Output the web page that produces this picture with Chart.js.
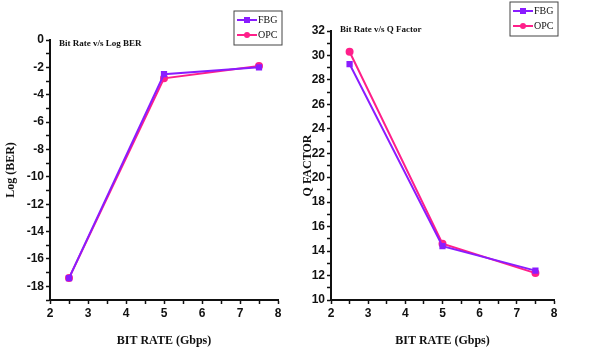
<!DOCTYPE html>
<html>
<head>
<meta charset="utf-8">
<script src="https://cdn.jsdelivr.net/npm/chart.js@4.4.0/dist/chart.umd.min.js"></script>
<style>
  html, body { margin: 0; padding: 0; background: #fff; }
  .box { position: absolute; top: 0; height: 352px; }
</style>
</head>
<body>
<div class="box" style="left:0;width:297px"><canvas id="berchart"></canvas></div>
<div class="box" style="left:297px;width:300px"><canvas id="qchart"></canvas></div>
<script>
// bit rate (Gbps)
const bitRates = [2.5, 5, 7.5];
// Log(BER)
const berFBG = [-17.4, -2.5, -2.0];
const berOPC = [-17.4, -2.8, -1.9];
// Q factor
const qFBG = [29.3, 14.4, 12.4];
const qOPC = [30.3, 14.6, 12.2];

const FBG_COLOR = '#8a1cff';
const OPC_COLOR = '#ff1f8a';
const serif = '"Liberation Serif", "DejaVu Serif", serif';
const sans = '"Liberation Sans Narrow", "Liberation Sans", sans-serif';

function pts(xs, ys) {
  return xs.map((x, i) => ({ x: x, y: ys[i] }));
}

// small title inside the plot + framed legend
const decor = {
  id: 'decor',
  afterDraw(chart, args, opts) {
    const ctx = chart.ctx;
    ctx.save();
    ctx.fillStyle = '#111';
    ctx.font = 'bold 9px ' + serif;
    ctx.textBaseline = 'middle';
    ctx.fillText(opts.title, opts.titleX, opts.titleY);
    // legend box
    const lx = opts.legX, ly = opts.legY;
    ctx.strokeStyle = '#444';
    ctx.lineWidth = 1;
    ctx.strokeRect(lx, ly, 48, 34);
    const items = [['FBG', FBG_COLOR, 'rect'], ['OPC', OPC_COLOR, 'circle']];
    items.forEach((it, i) => {
      const y = ly + 9 + i * 15;
      ctx.strokeStyle = it[1];
      ctx.fillStyle = it[1];
      ctx.lineWidth = 2;
      ctx.beginPath();
      ctx.moveTo(lx + 3, y);
      ctx.lineTo(lx + 23, y);
      ctx.stroke();
      if (it[2] === 'rect') {
        ctx.fillRect(lx + 10, y - 3, 6, 6);
      } else {
        ctx.beginPath();
        ctx.arc(lx + 13, y, 3, 0, Math.PI * 2);
        ctx.fill();
      }
      ctx.fillStyle = '#111';
      ctx.font = '10px ' + serif;
      ctx.fillText(it[0], lx + 24, y);
    });
    ctx.restore();
  }
};

function makeChart(id, fbg, opc, yMin, yMax, yTitle, pad, yWidth, decorOpts) {
  return new Chart(document.getElementById(id).getContext('2d'), {
    type: 'line',
    data: {
      datasets: [{
        label: 'FBG',
        data: pts(bitRates, fbg),
        borderColor: FBG_COLOR,
        backgroundColor: FBG_COLOR,
        borderWidth: 2,
        pointStyle: 'rect',
        pointRadius: 3,
        tension: 0
      }, {
        label: 'OPC',
        data: pts(bitRates, opc),
        borderColor: OPC_COLOR,
        backgroundColor: OPC_COLOR,
        borderWidth: 2,
        pointStyle: 'circle',
        pointRadius: 3,
        tension: 0
      }]
    },
    options: {
      responsive: false,
      animation: false,
      layout: { padding: pad },
      plugins: {
        legend: { display: false },
        tooltip: { enabled: false },
        decor: decorOpts
      },
      scales: {
        x: {
          type: 'linear',
          min: 2,
          max: 8,
          afterFit: s => { s.height = 52; },
          ticks: {
            stepSize: 0.5,
            autoSkip: false,
            maxRotation: 0,
            color: '#111',
            font: { family: sans, size: 12, weight: 'bold' },
            padding: 2,
            callback: v => (Number.isInteger(v) ? v : '')
          },
          grid: { drawOnChartArea: false, tickLength: 4, tickColor: '#111', tickWidth: 1.5 },
          border: { color: '#111', width: 2 },
          title: {
            display: true,
            text: 'BIT RATE (Gbps)',
            color: '#111',
            font: { family: serif, size: 12, weight: 'bold' },
            padding: { top: 7 }
          }
        },
        y: {
          min: yMin,
          max: yMax,
          afterFit: s => { s.width = yWidth; },
          ticks: {
            stepSize: 1,
            autoSkip: false,
            color: '#111',
            font: { family: sans, size: 12, weight: 'bold' },
            padding: 2,
            callback: v => (v % 2 === 0 ? v : '')
          },
          grid: { drawOnChartArea: false, tickLength: 4, tickColor: '#111', tickWidth: 1.5 },
          border: { color: '#111', width: 2 },
          title: {
            display: true,
            text: yTitle,
            color: '#111',
            font: { family: serif, size: 12, weight: 'bold' },
            padding: { bottom: 0 }
          }
        }
      }
    },
    plugins: [decor]
  });
}

function sizeCanvas(id, w) {
  const c = document.getElementById(id);
  c.width = w; c.height = 352;
  c.style.width = w + 'px'; c.style.height = '352px';
}
sizeCanvas('berchart', 297);
sizeCanvas('qchart', 300);

makeChart('berchart', berFBG, berOPC, -19, 0, 'Log (BER)',
  { top: 40, right: 19, left: 0, bottom: 0 }, 50,
  { title: 'Bit Rate v/s Log BER', titleX: 59, titleY: 44, legX: 234, legY: 11 });

makeChart('qchart', qFBG, qOPC, 10, 32, 'Q FACTOR',
  { top: 31, right: 43, left: 0, bottom: 0 }, 34,
  { title: 'Bit Rate v/s Q Factor', titleX: 43, titleY: 30, legX: 213, legY: 2 });
</script>
</body>
</html>
